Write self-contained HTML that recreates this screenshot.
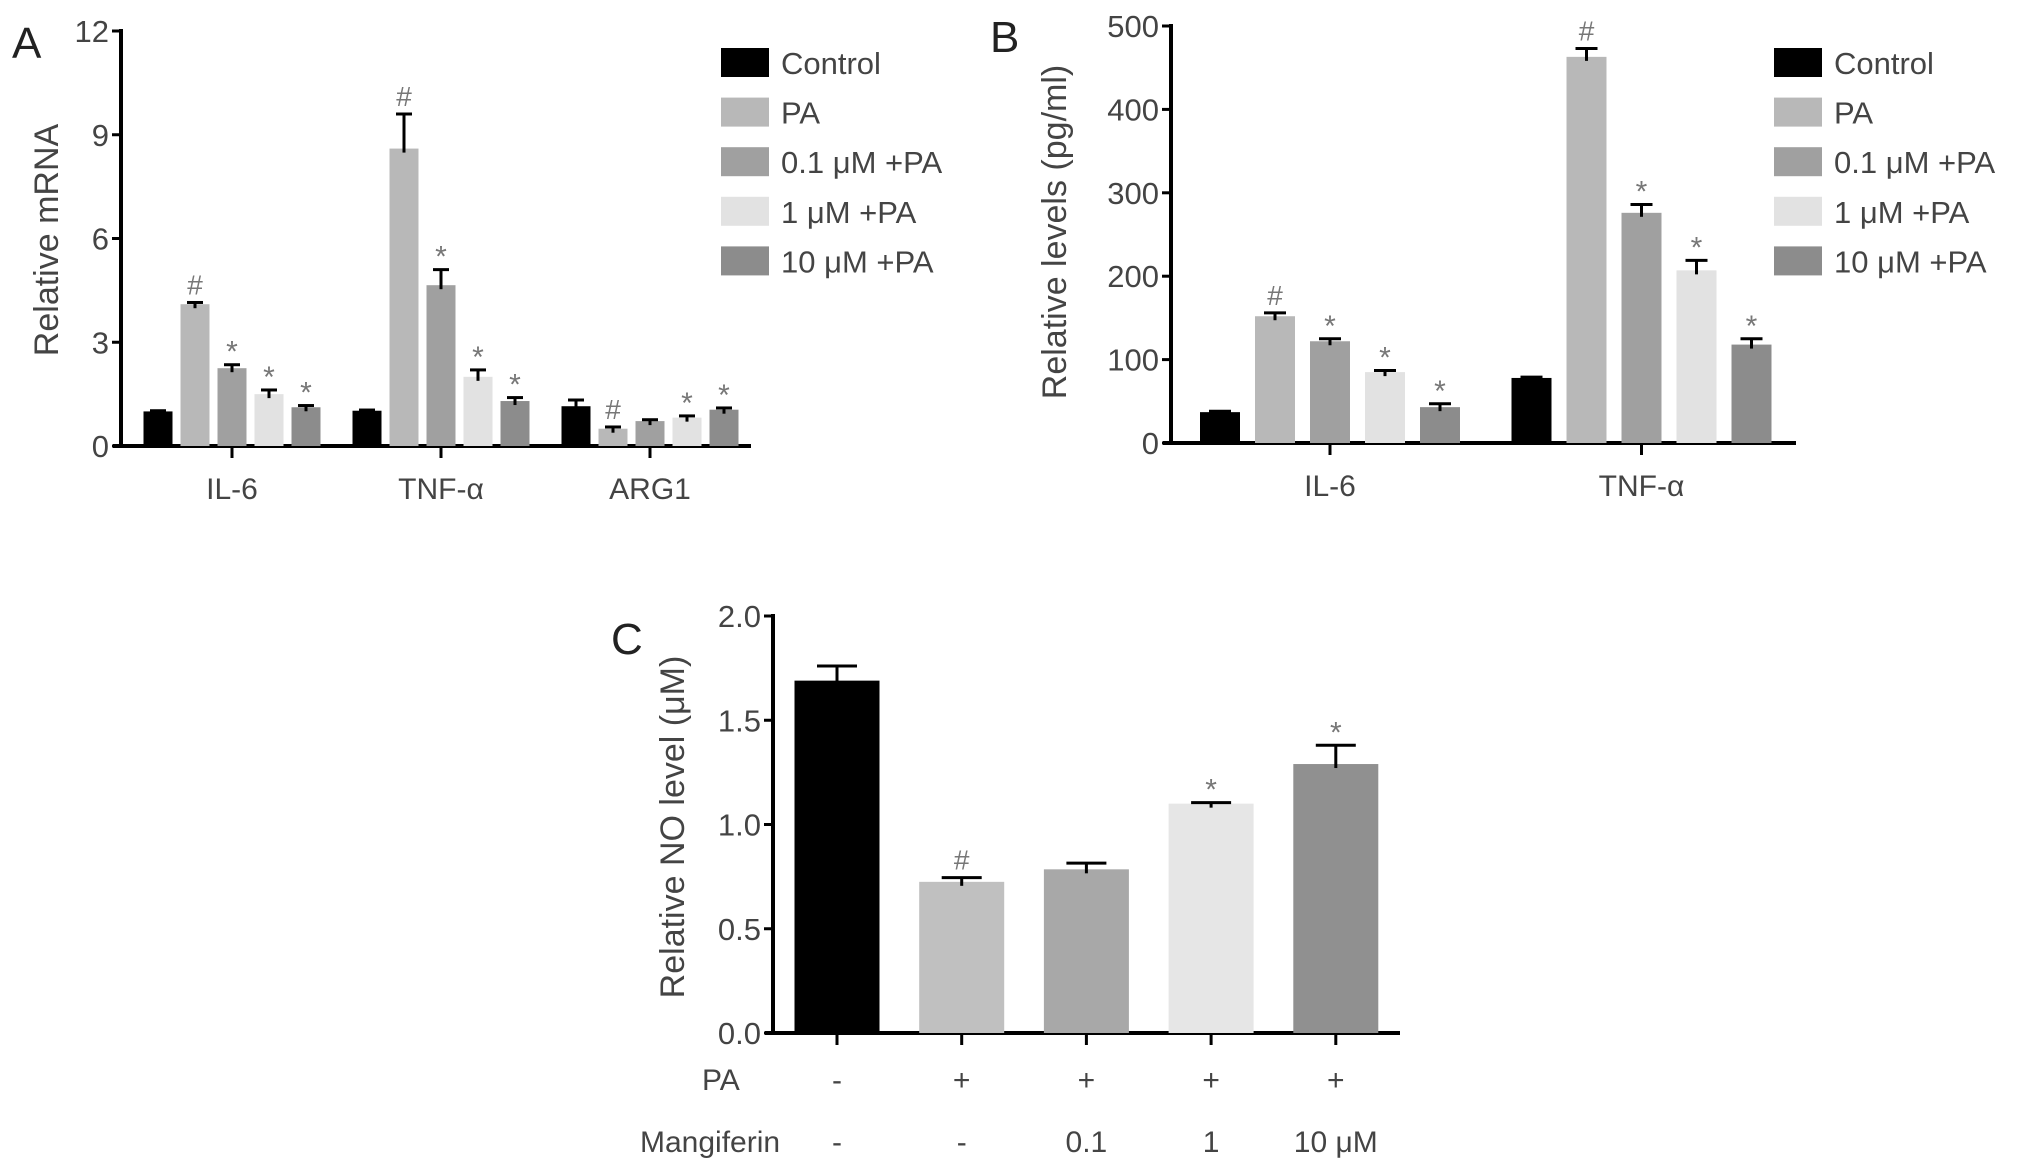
<!DOCTYPE html>
<html><head><meta charset="utf-8"><style>
body{margin:0;background:#fff}
svg{display:block;font-family:"Liberation Sans",sans-serif}
</style></head><body>
<svg id="fig" width="2031" height="1172" viewBox="0 0 2031 1172" xmlns="http://www.w3.org/2000/svg"></svg>
<script>
// Panel A data
const aCategories = ["IL-6", "TNF-\u03b1", "ARG1"];
const aSeries = ["Control", "PA", "0.1 \u03bcM +PA", "1 \u03bcM +PA", "10 \u03bcM +PA"];
const aValues = [[1.0,4.1,2.25,1.5,1.12],[1.02,8.6,4.65,2.0,1.3],[1.15,0.5,0.72,0.82,1.05]];
const aErrors = [[0.02,0.05,0.1,0.12,0.05],[0.02,1.0,0.45,0.2,0.1],[0.18,0.05,0.04,0.05,0.05]];
const aMarks = [["","#","*","*","*"],["","#","*","*","*"],["","#","","*","*"]];
const aTicks = [0,3,6,9,12];
// Panel B data
const bCategories = ["IL-6", "TNF-\u03b1"];
const bValues = [[37,152,122,85,43],[78,463,276,207,118]];
const bErrors = [[1,4,3,2,4],[1,10,10,12,7]];
const bMarks = [["","#","*","*","*"],["","#","*","*","*"]];
const bTicks = [0,100,200,300,400,500];
// Panel C data
const cPA = ["-","+","+","+","+"];
const cMang = ["-","-","0.1","1","10 \u03bcM"];
const cValues = [1.69,0.725,0.785,1.1,1.29];
const cErrors = [0.07,0.02,0.03,0.005,0.09];
const cMarks = ["","#","","*","*"];
const cTicks = ["0.0","0.5","1.0","1.5","2.0"];

const colors = ["#000000","#b8b8b8","#a0a0a0","#e2e2e2","#8c8c8c"];
const svg = document.getElementById('fig');
const NS = "http://www.w3.org/2000/svg";
function el(tag, attrs, parent){const e=document.createElementNS(NS,tag);for(const k in attrs)e.setAttribute(k,attrs[k]);(parent||svg).appendChild(e);return e;}
function txt(s, attrs, parent){const e=el('text',attrs,parent);e.textContent=s;return e;}

function panel(cfg){
  const g = el('g',{});
  
  
  const y = v => cfg.y0 - (v - cfg.min)/(cfg.max-cfg.min)*(cfg.y0-cfg.yTop);
  const ya = el('line',{x1:cfg.ax,y1:cfg.yTop-2,x2:cfg.ax,y2:cfg.y0+2,stroke:'#000','stroke-width':4},g);
   
  const xa = el('line',{x1:cfg.ax-8,y1:cfg.y0,x2:cfg.xEnd,y2:cfg.y0,stroke:'#000','stroke-width':4},g);
   
  cfg.ticks.forEach(t=>{
    const v = parseFloat(t);
    el('line',{x1:cfg.ax-9,y1:y(v),x2:cfg.ax,y2:y(v),stroke:'#000','stroke-width':3},g);
    const tl = txt(String(t),{x:cfg.ax-12,y:y(v)+11,'text-anchor':'end','font-size':31,fill:'#444'},g);
     
  });
  const yl = txt(cfg.ylabel,{x:0,y:0,transform:`translate(${cfg.ylx},${cfg.yly}) rotate(-90)`,'text-anchor':'middle','font-size':34,fill:'#444'},g);
   
  const pl = txt(cfg.letter,{x:cfg.lx,y:cfg.ly,'font-size':44,fill:'#222'},g);
   
  cfg.groups.forEach((grp,gi)=>{
    grp.values.forEach((v,i)=>{
      const x = grp.start + i*cfg.step;
      const top = y(v);
      const r = el('rect',{x:x,y:top,width:cfg.bw,height:cfg.y0-top,fill:grp.colors[i]},g);
      
      
      const et = y(v+grp.errors[i]);
      const cx = x+cfg.bw/2;
      el('line',{x1:cx,y1:top+4,x2:cx,y2:et,stroke:'#000','stroke-width':3},g);
      el('line',{x1:cx-cfg.cap,y1:et,x2:cx+cfg.cap,y2:et,stroke:'#000','stroke-width':3},g);
      if(grp.marks[i]){
        const m = txt(grp.marks[i],{x:cx,y:et-(grp.marks[i]=='#'?8:3),'text-anchor':'middle','font-size':grp.marks[i]=='#'?28:30,fill:'#777'},g);
         
      }
    });
    if(grp.label){
      const c = grp.start + (grp.values.length*cfg.step - (cfg.step-cfg.bw))/2;
      el('line',{x1:c,y1:cfg.y0,x2:c,y2:cfg.y0+12,stroke:'#000','stroke-width':3},g);
      const cl = txt(grp.label,{x:c,y:cfg.y0+53,'text-anchor':'middle','font-size':30,fill:'#444'},g);
       
    }
  });
  if(cfg.legendX){
    aSeries.forEach((s,i)=>{
      const yy = 48 + i*49.6;
      const sw = el('rect',{x:cfg.legendX,y:yy,width:48,height:29,fill:colors[i]},g);
       
      const lt = txt(s,{x:cfg.legendX+60,y:yy+26,'font-size':31,fill:'#444'},g);
       
    });
  }
}

panel({name:'panel-a',letter:'A',lx:12,ly:58,ax:121,yTop:31,y0:446,xEnd:751,min:0,max:12,ticks:aTicks,
  ylabel:'Relative mRNA',ylx:58,yly:240,bw:29,step:37,cap:8,legendX:721,
  groups:aCategories.map((c,gi)=>({label:c,start:143.5+gi*209,values:aValues[gi],errors:aErrors[gi],marks:aMarks[gi],colors:colors}))});

panel({name:'panel-b',letter:'B',lx:990,ly:52,ax:1171,yTop:26,y0:443,xEnd:1796,min:0,max:500,ticks:bTicks,
  ylabel:'Relative levels (pg/ml)',ylx:1066,yly:232,bw:40,step:55,cap:11,legendX:1774,
  groups:bCategories.map((c,gi)=>({label:c,start:1200+gi*311.5,values:bValues[gi],errors:bErrors[gi],marks:bMarks[gi],colors:colors}))});

const cColors = ["#000000","#c0c0c0","#a8a8a8","#e6e6e6","#909090"];
panel({name:'panel-c',letter:'C',lx:611,ly:654,ax:773,yTop:616,y0:1033,xEnd:1400,min:0,max:2,ticks:cTicks,
  ylabel:'Relative NO level (\u03bcM)',ylx:684,yly:827,bw:85,step:124.7,cap:20,
  groups:[{label:'',start:794.5,values:cValues,errors:cErrors,marks:cMarks,colors:cColors}]});

cValues.forEach((v,i)=>{
  const cx = 794.5 + i*124.7 + 42.5;
  el('line',{x1:cx,y1:1033,x2:cx,y2:1045,stroke:'#000','stroke-width':3});
  const p = txt(cPA[i],{x:cx,y:1090,'text-anchor':'middle','font-size':30,fill:'#444'});
   
  const m = txt(cMang[i],{x:cx,y:1152,'text-anchor':'middle','font-size':30,fill:'#444'});
   
});
const paT = txt('PA',{x:702,y:1090,'font-size':30,fill:'#444'});
 
const mT = txt('Mangiferin',{x:640,y:1152,'font-size':30,fill:'#444'});
 
</script>
</body></html>
